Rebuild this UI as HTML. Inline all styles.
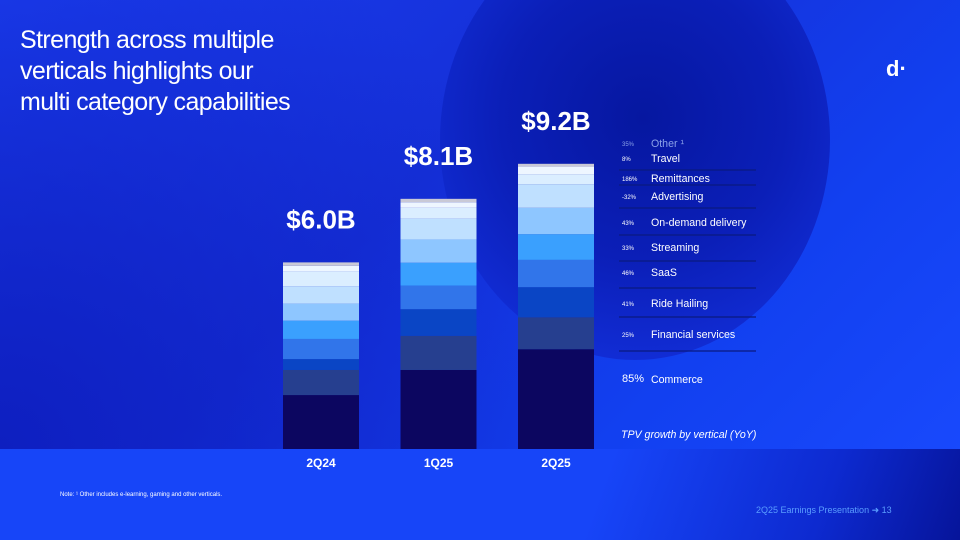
<!DOCTYPE html>
<html><head><meta charset="utf-8"><style>
body{margin:0;width:960px;height:540px;overflow:hidden;font-family:"Liberation Sans",sans-serif;}
#root{position:relative;width:960px;height:540px;overflow:hidden;background:linear-gradient(135deg,#1b3ef0 0%,#1530d8 40%,#1240f0 70%,#1a4bff 100%);}
.abs{position:absolute;}
</style></head><body>
<div id="root">
<div class="abs" style="left:0;top:0;width:960px;height:449px;background:radial-gradient(circle at 0% 100%,#0e1fc0 0%,rgba(14,31,192,0) 55%);"></div>
<div class="abs" style="left:440px;top:-80px;width:390px;height:440px;border-radius:50%;background:radial-gradient(circle at 52% 45%,#0617a0 0%,#0b1fb8 45%,#1330dc 85%,#1836e8 100%);"></div>
<div class="abs" style="left:0;top:449px;width:960px;height:91px;background:linear-gradient(110deg,#1745f8 0%,#1745f8 62%,#0d2ad0 85%,#06149a 100%);"></div>
<div class="abs" style="left:20px;top:25px;color:#fff;font-size:25px;line-height:31px;letter-spacing:-0.6px;">Strength across multiple<br>verticals highlights our<br>multi category capabilities</div>
<div class="abs" style="left:886px;top:56px;color:#fff;font-size:22px;font-weight:bold;">d·</div>
<svg class="abs" style="left:0;top:0" width="960" height="540" id="chart"></svg>
<div class="abs" style="left:60px;top:492px;color:#fff;font-size:6px;">Note: ¹ Other includes e-learning, gaming and other verticals.</div>
<div class="abs" style="left:756px;top:505px;color:#5a9dff;font-size:9px;">2Q25 Earnings Presentation ➜ 13</div>
</div>
<script>
const categories=["2Q24","1Q25","2Q25"];
const totals=["$6.0B","$8.1B","$9.2B"];
const verticals=["Commerce","Financial services","Ride Hailing","SaaS","Streaming","On-demand delivery","Advertising","Remittances","Travel","Other"];
const growth=["85%","25%","41%","46%","33%","43%","-32%","186%","8%","35%"];
const commerce=[1.74,2.55,3.22];
const financial=[0.81,1.10,1.03];
const ride=[0.35,0.86,0.97];
const saas=[0.65,0.76,0.88];
const streaming=[0.59,0.74,0.83];
const ondemand=[0.55,0.75,0.85];
const advertising=[0.56,0.67,0.76];
const remittances=[0.48,0.35,0.32];
const travel=[0.18,0.18,0.25];
const other=[0.11,0.11,0.09];
const series=[commerce,financial,ride,saas,streaming,ondemand,advertising,remittances,travel,other];
const colors=["#0c0660","#263f8f","#0a45c5","#3175ea","#3aa0fe","#8ec6ff","#bfe0ff","#dbeeff","#eef6ff","#c9c9d6"];
const NS="http://www.w3.org/2000/svg";
const svg=document.getElementById("chart");
const baseY=449,pxPerB=31,barW=76;
function xC(i){return 321+i*117.5;}
function yS(v){return v*pxPerB;}
function mk(tag,attrs){const e=document.createElementNS(NS,tag);for(const k in attrs)e.setAttribute(k,attrs[k]);svg.appendChild(e);return e;}
categories.forEach((c,i)=>{
  let y=baseY;
  series.forEach((s,j)=>{
    const h=yS(s[i]);y-=h;
    const r=mk("rect",{x:xC(i)-barW/2,y:y,width:barW,height:h,fill:colors[j]});
    
    
  });
  const t=mk("text",{x:xC(i),y:y-34,"text-anchor":"middle",fill:"#fff","font-size":"26","font-weight":"bold","font-family":"Liberation Sans"});
  t.textContent=totals[i];
  
  
  const xl=mk("text",{x:xC(i),y:467,"text-anchor":"middle",fill:"#fff","font-size":"12","font-weight":"bold","font-family":"Liberation Sans"});
  xl.textContent=c;
  
  
});
const legY=[379,334,303,272,247,222,196,178,158,143];
const lineY=[170,185,208,235,261,288,317,351];
lineY.forEach(y=>{const l=mk("line",{x1:619,x2:756,y1:y,y2:y,stroke:"#0a1a80","stroke-width":1.2});
  });
verticals.forEach((v,j)=>{
  const big=j===0;
  const col=j===9?"#8aa0e8":"#fff";
  const p=mk("text",{x:622,y:legY[j]+3,fill:col,"font-size":big?"11":"6","font-family":"Liberation Sans"});
  p.textContent=growth[j];
  
  
  const t=mk("text",{x:651,y:legY[j]+4,fill:col,"font-size":"10.6","font-family":"Liberation Sans"});
  t.textContent=v+(j===9?" ¹":"");
  
  
});
const n=mk("text",{x:621,y:438,fill:"#fff","font-size":"10.6","font-style":"italic","font-family":"Liberation Sans"});
n.textContent="TPV growth by vertical (YoY)";


</script>
</body></html>
